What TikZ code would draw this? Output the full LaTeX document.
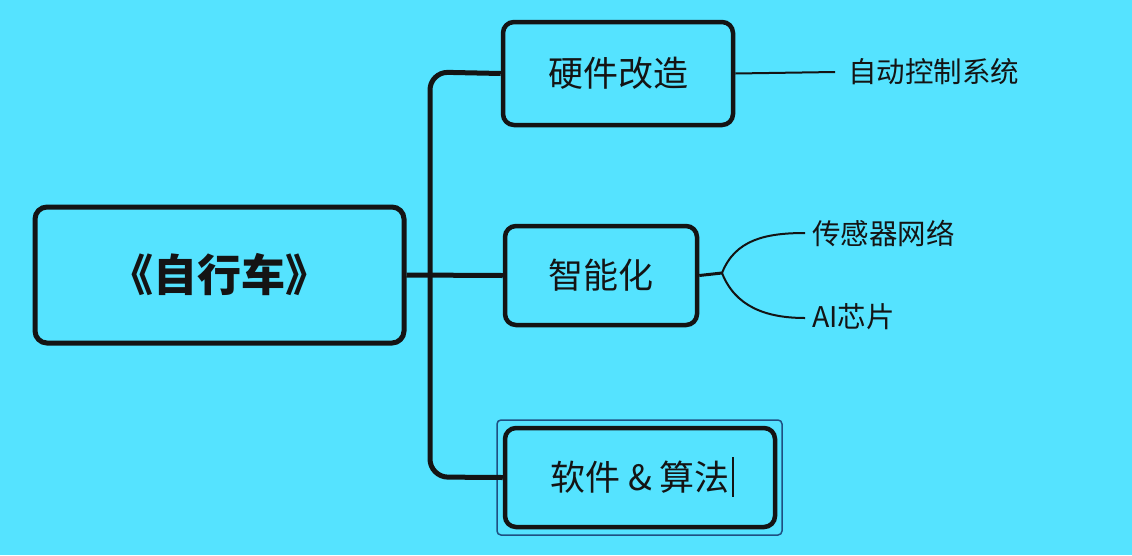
\documentclass[tikz,border=0pt]{standalone}
\usepackage{fontspec}
\newfontfamily\cjk{Noto Sans CJK SC}
\definecolor{bg}{RGB}{85,227,255}
\definecolor{ink}{RGB}{20,20,20}
\definecolor{selblue}{RGB}{30,80,130}
\begin{document}
\begin{tikzpicture}[x=1pt,y=-1pt,
  mainbox/.style={draw=ink,line width=5pt,rounded corners=12pt,fill=bg,inner sep=0pt,text=ink},
  subbox/.style={mainbox,line width=4.5pt,rounded corners=11pt,font=\cjk\fontsize{35}{40}\selectfont},
  leaf/.style={anchor=west,inner sep=0pt,text=ink,font=\cjk\fontsize{28.5}{30}\selectfont},
  trunk/.style={draw=ink,line width=5pt,rounded corners=18pt},
  thin/.style={draw=ink,line width=2pt}]
\fill[bg] (0,0) rectangle (1132,555);
\useasboundingbox (0,0) rectangle (1132,555);
% root
\node[mainbox,minimum width=369pt,minimum height=136pt,font=\cjk\bfseries\fontsize{44}{48}\selectfont] (root) at (219.5,275) {《自行车》};
% branches
\node[subbox,minimum width=230pt,minimum height=103pt] (hw) at (618,73.5) {硬件改造};
\node[subbox,minimum width=192pt,minimum height=99pt] (ai) at (601,275.5) {智能化};
\node[subbox,minimum width=270pt,minimum height=99pt] (sw) at (640,477.5) {软件 \& 算法};
% selection frame
\node[draw=selblue,line width=1.5pt,rounded corners=4pt,minimum width=285pt,minimum height=115pt,inner sep=0pt] (sel) at (639.5,477.5) {};
% cursor
\coordinate (cur1) at (733,457);
\coordinate (cur2) at (733,497);
\draw[ink,line width=1.5pt] (cur1) -- (cur2);
% trunk
\coordinate (tt) at (430,72);
\coordinate (tb) at (430,477);
\draw[trunk] (hw.west) -- (tt) -- (tb) -- (sw.west);
\draw[trunk,rounded corners=0pt] (root.east) -- (ai.west);
% leaves
\node[leaf] (auto) at (848,72) {自动控制系统};
\node[leaf] (sensor) at (812,233) {传感器网络};
\node[leaf] (chip) at (812,317) {AI芯片};
\coordinate (e1) at (835,72);
\draw[thin] (hw.east) -- (e1);
\coordinate (fork) at (722,273);
\coordinate (s1) at (805,233);
\coordinate (s2) at (805,318);
\draw[ink,line width=3pt] (ai.east) -- (fork);
\draw[thin] (fork) .. controls (735,240) and (765,233) .. (s1);
\draw[thin] (fork) .. controls (735,306) and (765,318) .. (s2);
\end{tikzpicture}
\end{document}
